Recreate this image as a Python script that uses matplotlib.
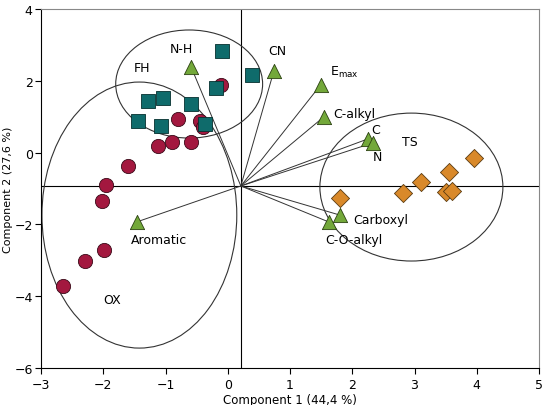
import matplotlib.pyplot as plt
from matplotlib.patches import Ellipse

# scores
ox_x = [-0.11, -0.80, -0.45, -0.40, -1.12, -0.90, -0.59, -1.61, -1.96, -2.02, -1.99, -2.30, -2.65]
ox_y = [1.88, 0.94, 0.88, 0.71, 0.18, 0.30, 0.30, -0.37, -0.90, -1.35, -2.71, -3.02, -3.72]
fh_x = [-0.10, 0.39, -0.19, -1.28, -1.04, -0.59, -1.44, -1.08, -0.37]
fh_y = [2.83, 2.16, 1.80, 1.44, 1.52, 1.35, 0.88, 0.74, 0.80]
ts_x = [3.95, 3.56, 3.11, 2.82, 3.50, 3.61, 1.80]
ts_y = [-0.15, -0.55, -0.82, -1.12, -1.10, -1.07, -1.26]

# loadings
var_names = ['N-H', 'CN', 'Emax', 'C-alkyl', 'C', 'N', 'Carboxyl', 'C-O-alkyl', 'Aromatic']
var_x = [-0.59, 0.74, 1.49, 1.54, 2.25, 2.33, 1.80, 1.62, -1.46]
var_y = [2.39, 2.27, 1.88, 0.99, 0.38, 0.27, -1.74, -1.93, -1.93]
origin = (0.21, -0.93)

plt.rcParams['font.family'] = 'DejaVu Sans'
fig = plt.figure(figsize=(5.44, 4.06), dpi=100)
ax = fig.add_axes([0.0754, 0.0911, 0.9154, 0.8843])

ax.axvline(origin[0], color='black', lw=0.8, zorder=1)
ax.axhline(origin[1], color='black', lw=0.8, zorder=1)

for vx, vy in zip(var_x, var_y):
    ax.plot([origin[0], vx], [origin[1], vy], color='#333333', lw=0.7, zorder=2)

ax.add_patch(Ellipse((-0.62, 1.91), 2.36, 3.01, fill=False, ec='#333333', lw=0.8, zorder=2))
ax.add_patch(Ellipse((-1.42, -1.74), 3.13, 7.41, fill=False, ec='#333333', lw=0.8, zorder=2))
ax.add_patch(Ellipse((2.95, -0.96), 2.94, 4.12, fill=False, ec='#333333', lw=0.8, zorder=2))

ax.scatter(ox_x, ox_y, s=105, marker='o', color='#A3183F', edgecolor='#3a0a18', lw=0.6, zorder=3)
ax.scatter(fh_x, fh_y, s=90, marker='s', color='#0F6B6B', edgecolor='#06302f', lw=0.6, zorder=3)
ax.scatter(ts_x, ts_y, s=85, marker='D', color='#D9892A', edgecolor='#5a3a10', lw=0.6, zorder=3)
ax.scatter(var_x, var_y, s=105, marker='^', color='#73A83A', edgecolor='#2a4010', lw=0.6, zorder=4)

fs = 9
ax.text(-1.38, 2.38, 'FH', fontsize=fs, ha='center', va='center')
ax.text(-0.74, 2.91, 'N-H', fontsize=fs, ha='center', va='center')
ax.text(0.80, 2.83, 'CN', fontsize=fs, ha='center', va='center')
ax.text(1.64, 2.27, r'E$_{\mathregular{max}}$', fontsize=fs, ha='left', va='center')
ax.text(1.70, 1.10, 'C-alkyl', fontsize=fs, ha='left', va='center')
ax.text(2.38, 0.65, 'C', fontsize=fs, ha='center', va='center')
ax.text(2.92, 0.32, 'TS', fontsize=fs, ha='center', va='center')
ax.text(2.41, -0.12, 'N', fontsize=fs, ha='center', va='center')
ax.text(2.01, -1.85, 'Carboxyl', fontsize=fs, ha='left', va='center')
ax.text(1.57, -2.41, 'C-O-alkyl', fontsize=fs, ha='left', va='center')
ax.text(-1.56, -2.41, 'Aromatic', fontsize=fs, ha='left', va='center')
ax.text(-1.86, -4.08, 'OX', fontsize=fs, ha='center', va='center')

ax.set_xlim(-3, 5)
ax.set_ylim(-6, 4)
ax.set_xticks(range(-3, 6))
ax.set_yticks(range(-6, 5, 2))
ax.tick_params(labelsize=fs, direction='out', length=4)
ax.tick_params(axis='y', pad=2)
ax.set_xlabel('Component 1 (44,4 %)', fontsize=8.5, labelpad=1)
ax.set_ylabel('Component 2 (27,6 %)', fontsize=8, va='center')
ax.yaxis.set_label_coords(-0.066, 0.5)
for side in ['top', 'right']:
    ax.spines[side].set_color('#888888')

fig.savefig('out.png', dpi=100)
